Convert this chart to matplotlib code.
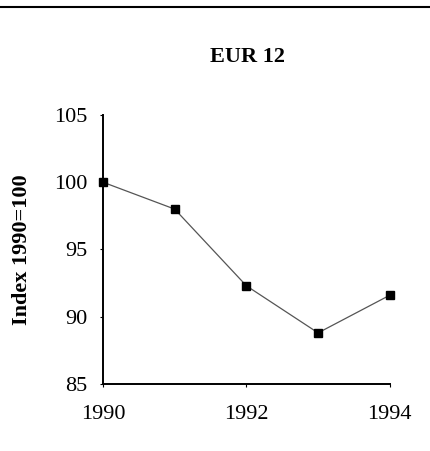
import matplotlib
matplotlib.use("Agg")
import matplotlib.pyplot as plt
from matplotlib.lines import Line2D

years = [1990, 1991, 1992, 1993, 1994]
index = [100.0, 98.0, 92.3, 88.8, 91.6]
xticks = [1990, 1992, 1994]
yticks = [85, 90, 95, 100, 105]

plt.rcParams['font.family'] = ['Liberation Serif', 'DejaVu Serif']

fig = plt.figure(figsize=(4.30, 4.51), dpi=100)
ax = fig.add_axes([0.2395, 0.1486, 0.667, 0.5965])

ax.plot(years, index, color='#555555', lw=0.9, marker='s', ms=5.5,
        mfc='black', mec='black', clip_on=False, zorder=3)

ax.set_xlim(1990, 1994)
ax.set_ylim(85, 105)
ax.set_xticks(xticks)
ax.set_yticks(yticks)
ax.tick_params(labelsize=16, length=2, width=0.8)
ax.tick_params(axis='x', pad=13)
ax.tick_params(axis='y', pad=9)
for s in ['top', 'right']:
    ax.spines[s].set_visible(False)
for s in ['left', 'bottom']:
    ax.spines[s].set_linewidth(1.4)

ax.set_ylabel('Index 1990=100', fontsize=16, fontweight='bold', labelpad=16)
fig.text(0.575, 0.873, 'EUR 12', ha='center', va='center', fontsize=16, fontweight='bold')

fig.add_artist(Line2D([0, 1], [0.9845, 0.9845], color='black', lw=1.5,
                      transform=fig.transFigure))

fig.savefig('out.png', dpi=100, facecolor='white')
